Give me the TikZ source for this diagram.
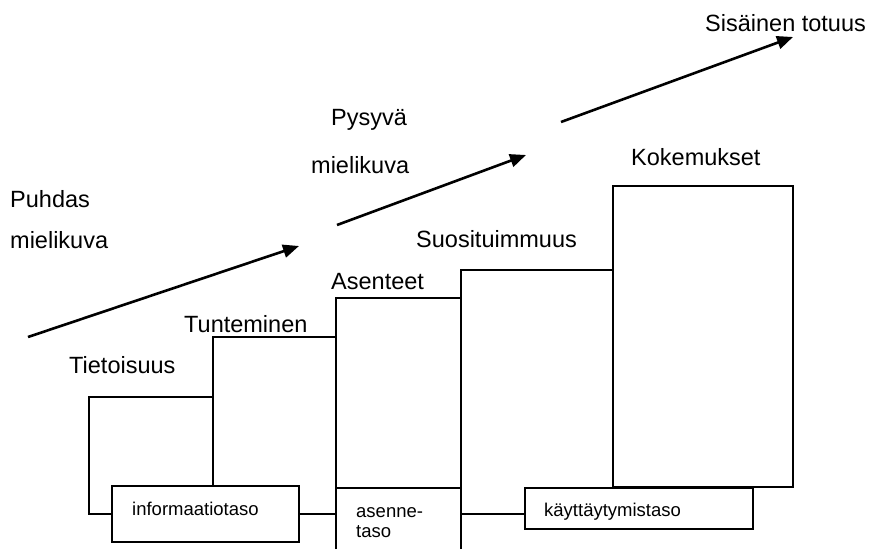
\documentclass[tikz,border=0pt]{standalone}
\usepackage{fontspec}
\setmainfont{Liberation Sans}
\usetikzlibrary{arrows.meta}
\begin{document}
\begin{tikzpicture}[x=1pt,y=-1pt,
  big/.style={anchor=base west,inner sep=0pt,font=\fontsize{23.5}{27}\selectfont},
  small/.style={anchor=base west,inner sep=0pt,font=\fontsize{18.5}{20}\selectfont},
  box/.style={draw,line width=2pt,inner sep=0pt},
  stair/.style={line width=2pt},
  rise/.style={line width=2.6pt,-{Triangle[length=16pt,width=13pt]}}]
\useasboundingbox (0,0) rectangle (872,549);

% stair corners
\coordinate (s1b) at (89,514);
\coordinate (s1t) at (89,397);
\coordinate (s2t) at (213,397);
\coordinate (s2b) at (213,486);
\coordinate (s2u) at (213,337);
\coordinate (s3u) at (336,337);
\coordinate (s3t) at (336,298);
\coordinate (s3b) at (336,549);
\coordinate (s3m) at (336,514);
\coordinate (s3h) at (336,488);
\coordinate (s4t) at (461,298);
\coordinate (s4u) at (461,270);
\coordinate (s4b) at (461,549);
\coordinate (s4m) at (461,514);
\coordinate (s4h) at (461,488);
\coordinate (s5u) at (613,270);

% boxes
\node[box,minimum width=187pt,minimum height=56pt] (info) at (205.5,514) {};
\node[box,minimum width=228pt,minimum height=41pt] (kaytt) at (639,508.5) {};
\node[box,minimum width=180pt,minimum height=301pt] (koke) at (703,336.5) {};

% stairs
\draw[stair] (info.west |- s1b) -- (s1b) -- (s1t) -- (s2t);
\draw[stair] (s2b) -- (s2u) -- (s3u);
\draw[stair] (s3b) -- (s3t) -- (s4t);
\draw[stair] (s4b) -- (s4u) -- (s5u);
\draw[stair] (s3h) -- (s4h);
\draw[stair] (info.east |- s3m) -- (s3m);
\draw[stair] (s4m) -- (s4m -| kaytt.west);

% arrows
\coordinate (a1s) at (28,337);
\coordinate (a1e) at (299,246);
\coordinate (a2s) at (337,225);
\coordinate (a2e) at (526,155);
\coordinate (a3s) at (561,122);
\coordinate (a3e) at (793,37);
\draw[rise] (a1s) -- (a1e);
\draw[rise] (a2s) -- (a2e);
\draw[rise] (a3s) -- (a3e);

% labels
\node[big] (tot) at (705,31) {Sisäinen totuus};
\node[big] (pys) at (331,125) {Pysyvä};
\node[big] (mk2) at (311,173) {mielikuva};
\node[big] (puh) at (10,207) {Puhdas};
\node[big] (mk1) at (10,248) {mielikuva};
\node[big] (kok) at (631,165) {Kokemukset};
\node[big] (suo) at (416,247) {Suosituimmuus};
\node[big] (ase) at (331,289) {Asenteet};
\node[big] (tun) at (184,332) {Tunteminen};
\node[big] (tie) at (69,373) {Tietoisuus};
\node[small] (inf) at (132,515) {informaatiotaso};
\node[small] (kay) at (544,516) {käyttäytymistaso};
\node[small] (as1) at (356,517) {asenne-};
\node[small] (as2) at (356,537) {taso};
\end{tikzpicture}
\end{document}
